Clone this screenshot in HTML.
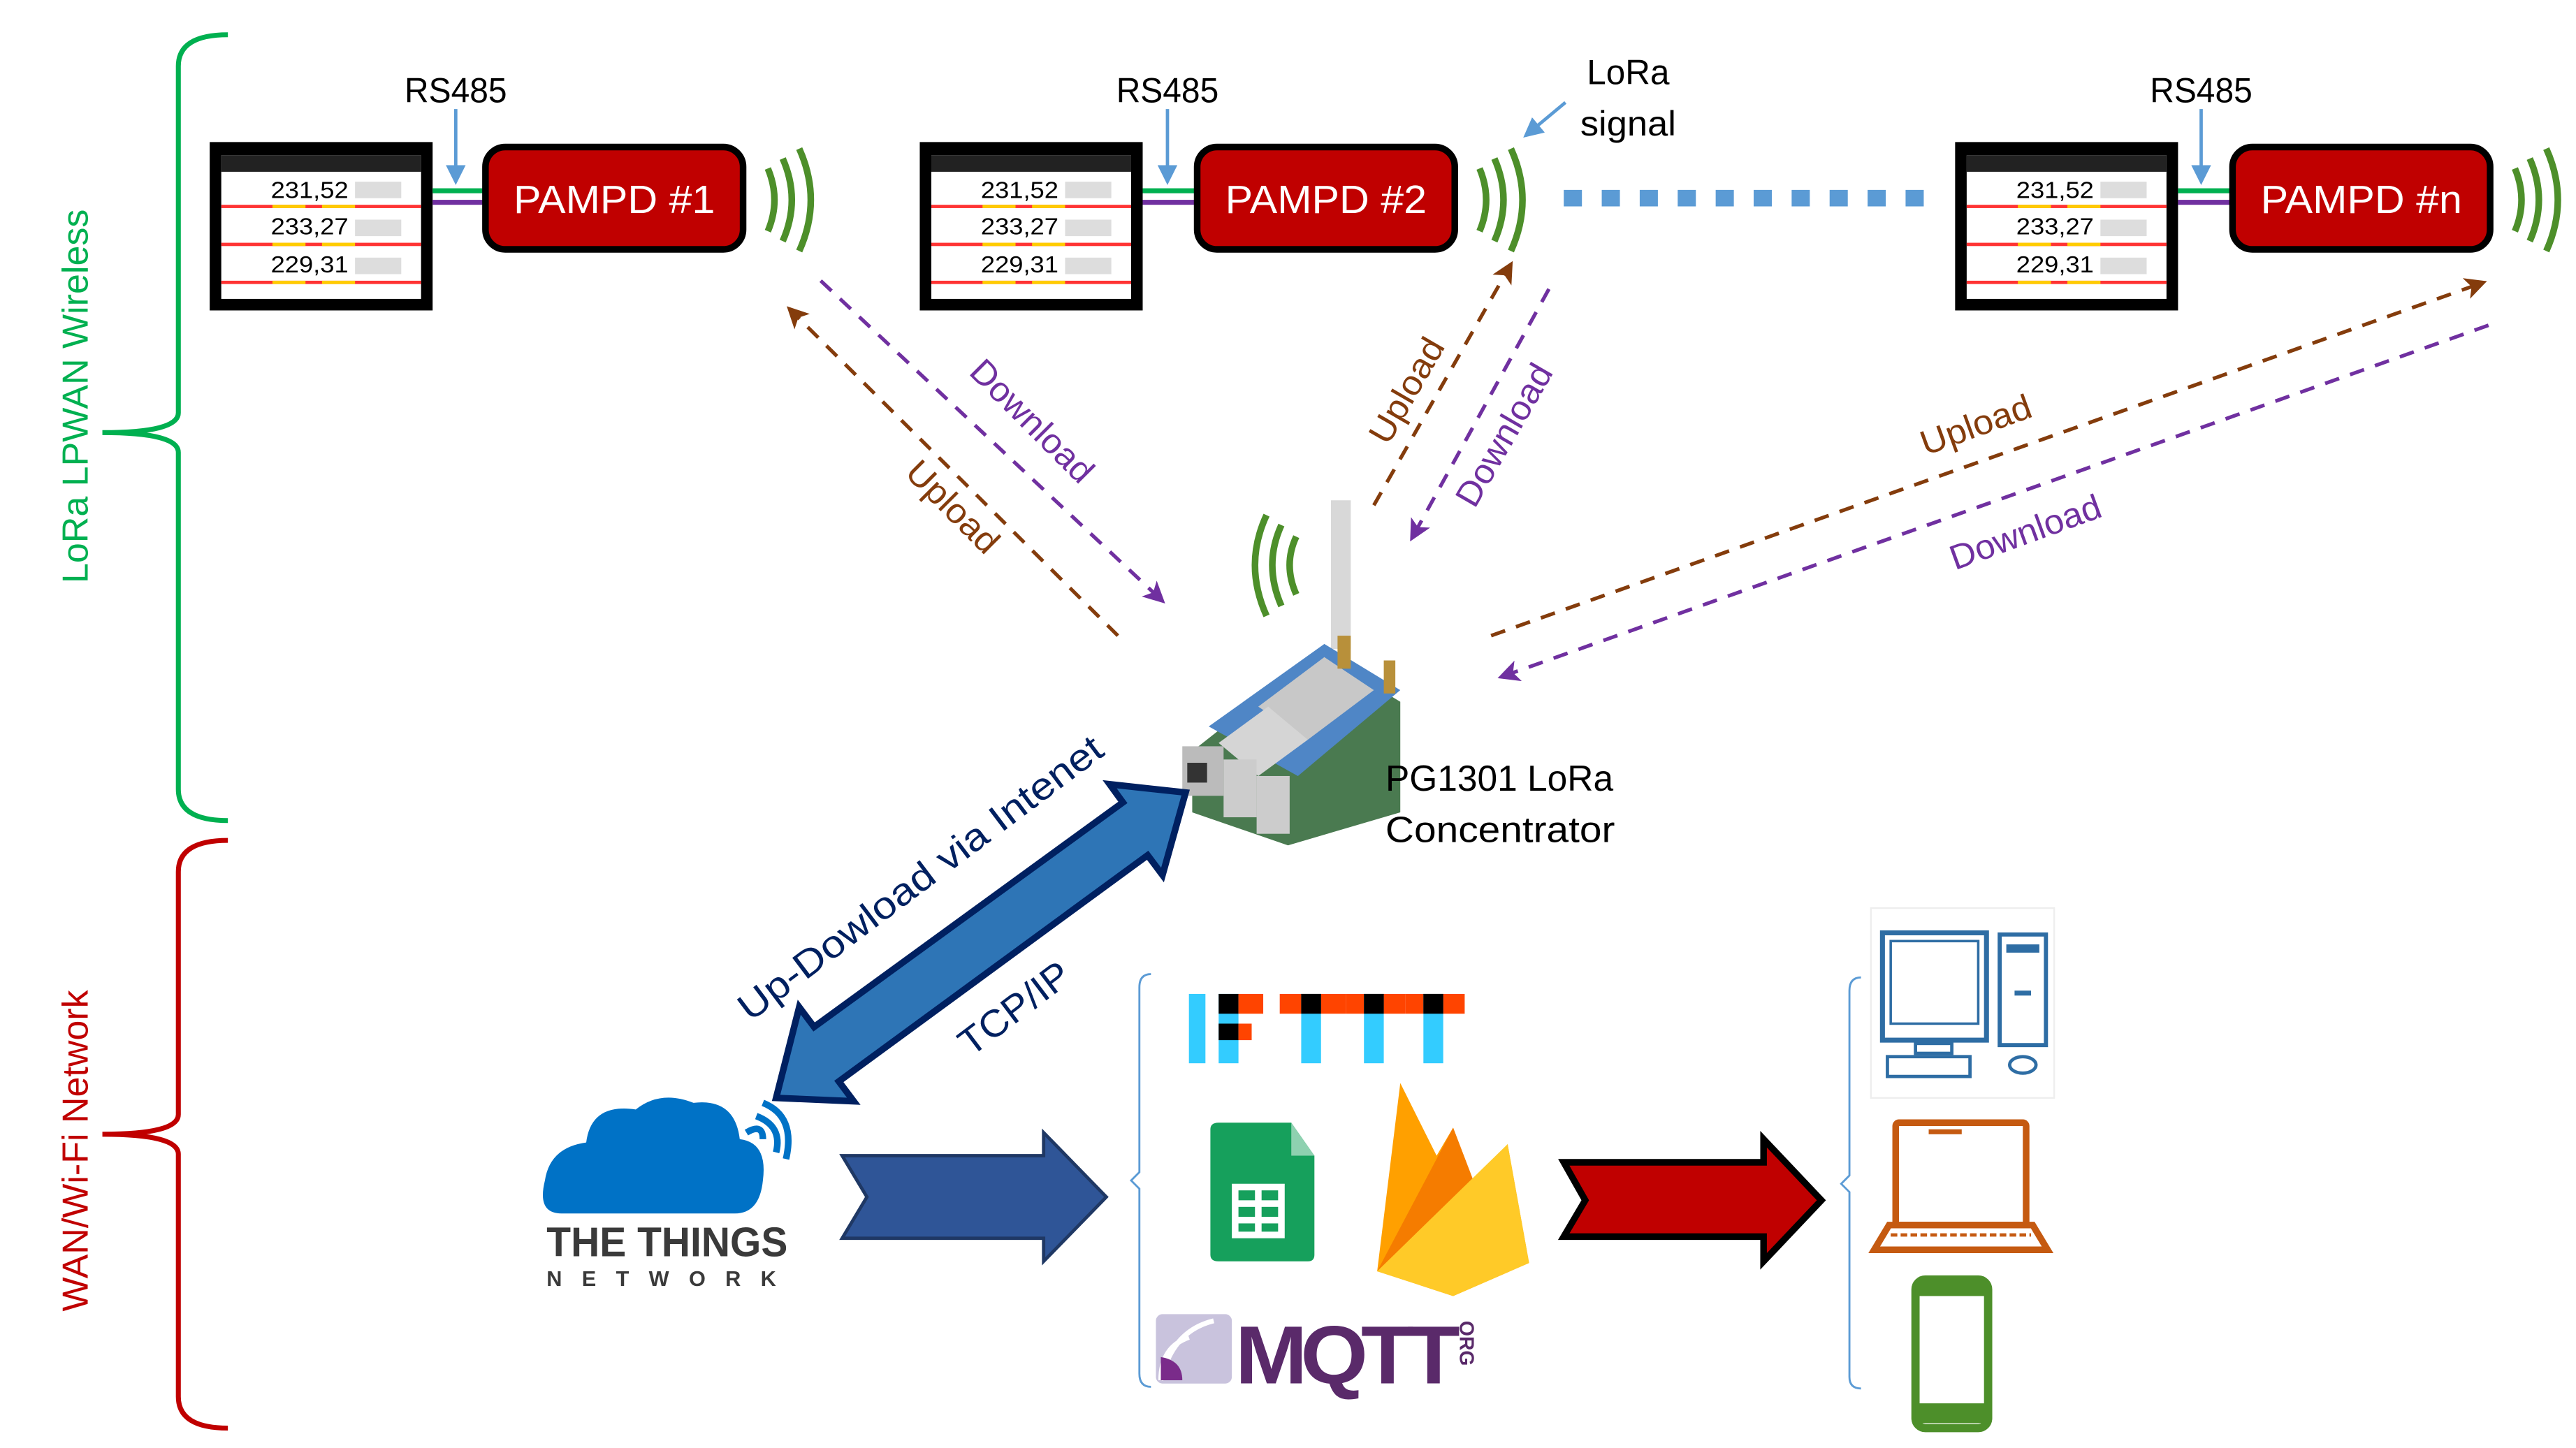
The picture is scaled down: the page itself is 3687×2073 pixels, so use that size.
<!DOCTYPE html>
<html><head><meta charset="utf-8"><style>
html,body{margin:0;padding:0;background:#fff;}
svg{display:block;}
text{font-family:"Liberation Sans",sans-serif;}
</style></head><body>
<svg width="3687" height="2073" viewBox="0 0 1560 877" xmlns="http://www.w3.org/2000/svg">
<defs>
<marker id="ab" markerWidth="6" markerHeight="6" refX="5" refY="3" orient="auto" markerUnits="strokeWidth"><path d="M0,0 L6,3 L0,6 L1.5,3 Z" fill="#843c0c"/></marker>
<marker id="ap" markerWidth="6" markerHeight="6" refX="5" refY="3" orient="auto" markerUnits="strokeWidth"><path d="M0,0 L6,3 L0,6 L1.5,3 Z" fill="#7030a0"/></marker>
<marker id="abl" markerWidth="6" markerHeight="6" refX="5" refY="3" orient="auto" markerUnits="strokeWidth"><path d="M0,0 L6,3 L0,6 Z" fill="#5b9bd5"/></marker>
</defs>

<!-- Braces -->
<path d="M138,21 Q108,21 108,40 L108,250 Q108,262 62,262 Q108,262 108,274 L108,478 Q108,497 138,497" fill="none" stroke="#00b050" stroke-width="3"/>
<text transform="translate(53,240) rotate(-90)" text-anchor="middle" font-size="22" fill="#00b050">LoRa LPWAN Wireless</text>
<path d="M138,509 Q108,509 108,528 L108,675 Q108,687 62,687 Q108,687 108,699 L108,846 Q108,865 138,865" fill="none" stroke="#c00000" stroke-width="3"/>
<text transform="translate(53,697) rotate(-90)" text-anchor="middle" font-size="22" fill="#c00000">WAN/Wi-Fi Network</text>

<!-- Meters -->
<g transform="translate(127,86)">
<rect x="0" y="0" width="135" height="102" fill="#000"/>
<rect x="7" y="8" width="121" height="87" fill="#fff"/>
<rect x="7" y="8" width="121" height="10" fill="#222"/>
<text x="37" y="34" font-size="14" textLength="47" lengthAdjust="spacingAndGlyphs">231,52</text><text x="37" y="56" font-size="14" textLength="47" lengthAdjust="spacingAndGlyphs">233,27</text><text x="37" y="79" font-size="14" textLength="47" lengthAdjust="spacingAndGlyphs">229,31</text>
<rect x="7" y="38" width="121" height="2" fill="#f33"/><rect x="38" y="38" width="20" height="2" fill="#fc0"/><rect x="68" y="38" width="20" height="2" fill="#fc0"/>
<rect x="7" y="61" width="121" height="2" fill="#f33"/><rect x="38" y="61" width="20" height="2" fill="#fc0"/><rect x="68" y="61" width="20" height="2" fill="#fc0"/>
<rect x="7" y="84" width="121" height="2" fill="#f33"/><rect x="38" y="84" width="20" height="2" fill="#fc0"/><rect x="68" y="84" width="20" height="2" fill="#fc0"/>
<rect x="88" y="24" width="28" height="10" fill="#ddd"/><rect x="88" y="47" width="28" height="10" fill="#ddd"/><rect x="88" y="70" width="28" height="10" fill="#ddd"/>
</g>
<g transform="translate(557,86)">
<rect x="0" y="0" width="135" height="102" fill="#000"/>
<rect x="7" y="8" width="121" height="87" fill="#fff"/>
<rect x="7" y="8" width="121" height="10" fill="#222"/>
<text x="37" y="34" font-size="14" textLength="47" lengthAdjust="spacingAndGlyphs">231,52</text><text x="37" y="56" font-size="14" textLength="47" lengthAdjust="spacingAndGlyphs">233,27</text><text x="37" y="79" font-size="14" textLength="47" lengthAdjust="spacingAndGlyphs">229,31</text>
<rect x="7" y="38" width="121" height="2" fill="#f33"/><rect x="38" y="38" width="20" height="2" fill="#fc0"/><rect x="68" y="38" width="20" height="2" fill="#fc0"/>
<rect x="7" y="61" width="121" height="2" fill="#f33"/><rect x="38" y="61" width="20" height="2" fill="#fc0"/><rect x="68" y="61" width="20" height="2" fill="#fc0"/>
<rect x="7" y="84" width="121" height="2" fill="#f33"/><rect x="38" y="84" width="20" height="2" fill="#fc0"/><rect x="68" y="84" width="20" height="2" fill="#fc0"/>
<rect x="88" y="24" width="28" height="10" fill="#ddd"/><rect x="88" y="47" width="28" height="10" fill="#ddd"/><rect x="88" y="70" width="28" height="10" fill="#ddd"/>
</g>
<g transform="translate(1184,86)">
<rect x="0" y="0" width="135" height="102" fill="#000"/>
<rect x="7" y="8" width="121" height="87" fill="#fff"/>
<rect x="7" y="8" width="121" height="10" fill="#222"/>
<text x="37" y="34" font-size="14" textLength="47" lengthAdjust="spacingAndGlyphs">231,52</text><text x="37" y="56" font-size="14" textLength="47" lengthAdjust="spacingAndGlyphs">233,27</text><text x="37" y="79" font-size="14" textLength="47" lengthAdjust="spacingAndGlyphs">229,31</text>
<rect x="7" y="38" width="121" height="2" fill="#f33"/><rect x="38" y="38" width="20" height="2" fill="#fc0"/><rect x="68" y="38" width="20" height="2" fill="#fc0"/>
<rect x="7" y="61" width="121" height="2" fill="#f33"/><rect x="38" y="61" width="20" height="2" fill="#fc0"/><rect x="68" y="61" width="20" height="2" fill="#fc0"/>
<rect x="7" y="84" width="121" height="2" fill="#f33"/><rect x="38" y="84" width="20" height="2" fill="#fc0"/><rect x="68" y="84" width="20" height="2" fill="#fc0"/>
<rect x="88" y="24" width="28" height="10" fill="#ddd"/><rect x="88" y="47" width="28" height="10" fill="#ddd"/><rect x="88" y="70" width="28" height="10" fill="#ddd"/>
</g>

<!-- connections & PAMPD boxes -->
<g>
<rect x="262" y="114" width="33" height="3" fill="#00b050"/><rect x="262" y="121" width="33" height="3" fill="#7030a0"/>
<rect x="692" y="114" width="33" height="3" fill="#00b050"/><rect x="692" y="121" width="33" height="3" fill="#7030a0"/>
<rect x="1319" y="114" width="33" height="3" fill="#00b050"/><rect x="1319" y="121" width="33" height="3" fill="#7030a0"/>
<rect x="294" y="89" width="156" height="62" rx="12" fill="#c00000" stroke="#000" stroke-width="4"/>
<rect x="725" y="89" width="156" height="62" rx="12" fill="#c00000" stroke="#000" stroke-width="4"/>
<rect x="1352" y="89" width="156" height="62" rx="12" fill="#c00000" stroke="#000" stroke-width="4"/>
<text x="372" y="129" text-anchor="middle" font-size="24" fill="#fff" textLength="122" lengthAdjust="spacingAndGlyphs">PAMPD #1</text>
<text x="803" y="129" text-anchor="middle" font-size="24" fill="#fff" textLength="122" lengthAdjust="spacingAndGlyphs">PAMPD #2</text>
<text x="1430" y="129" text-anchor="middle" font-size="24" fill="#fff" textLength="122" lengthAdjust="spacingAndGlyphs">PAMPD #n</text>
<text x="276" y="62" text-anchor="middle" font-size="21" textLength="62" lengthAdjust="spacingAndGlyphs">RS485</text>
<text x="707" y="62" text-anchor="middle" font-size="21" textLength="62" lengthAdjust="spacingAndGlyphs">RS485</text>
<text x="1333" y="62" text-anchor="middle" font-size="21" textLength="62" lengthAdjust="spacingAndGlyphs">RS485</text>
<line x1="276" y1="66" x2="276" y2="110" stroke="#5b9bd5" stroke-width="2" marker-end="url(#abl)"/>
<line x1="707" y1="66" x2="707" y2="110" stroke="#5b9bd5" stroke-width="2" marker-end="url(#abl)"/>
<line x1="1333" y1="66" x2="1333" y2="110" stroke="#5b9bd5" stroke-width="2" marker-end="url(#abl)"/>
</g>

<!-- signal arcs -->
<g fill="none" stroke="#4d8f2a" stroke-width="4">
<path d="M465,102 Q473,121 465,140"/><path d="M474,96 Q485,121 474,146"/><path d="M484,90 Q498,121 484,152"/>
<path d="M896,102 Q904,121 896,140"/><path d="M905,96 Q916,121 905,146"/><path d="M915,90 Q929,121 915,152"/>
<path d="M1523,102 Q1531,121 1523,140"/><path d="M1532,96 Q1543,121 1532,146"/><path d="M1542,90 Q1556,121 1542,152"/>
<path d="M785,325 Q777,342 785,360"/><path d="M776,318 Q765,342 776,367"/><path d="M767,312 Q753,342 767,373"/>
</g>

<!-- dotted blue -->
<line x1="947" y1="120" x2="1170" y2="120" stroke="#5b9bd5" stroke-width="10" stroke-dasharray="11,12"/>
<text x="986" y="51" text-anchor="middle" font-size="21" textLength="50" lengthAdjust="spacingAndGlyphs">LoRa</text>
<text x="986" y="82" text-anchor="middle" font-size="21" textLength="58" lengthAdjust="spacingAndGlyphs">signal</text>
<line x1="948" y1="62" x2="924" y2="82" stroke="#5b9bd5" stroke-width="2" marker-end="url(#abl)"/>

<!-- dashed arrows -->
<g stroke-width="2.2" fill="none" stroke-dasharray="9,7">
<line x1="497" y1="170" x2="704" y2="364" stroke="#7030a0" marker-end="url(#ap)"/>
<line x1="677" y1="385" x2="478" y2="187" stroke="#843c0c" marker-end="url(#ab)"/>
<line x1="832" y1="306" x2="915" y2="160" stroke="#843c0c" marker-end="url(#ab)"/>
<line x1="938" y1="175" x2="855" y2="326" stroke="#7030a0" marker-end="url(#ap)"/>
<line x1="903" y1="385" x2="1504" y2="171" stroke="#843c0c" marker-end="url(#ab)"/>
<line x1="1507" y1="197" x2="909" y2="410" stroke="#7030a0" marker-end="url(#ap)"/>
</g>
<text transform="translate(620,260) rotate(45)" text-anchor="middle" font-size="21" fill="#7030a0" textLength="96" lengthAdjust="spacingAndGlyphs">Download</text>
<text transform="translate(572,312) rotate(45)" text-anchor="middle" font-size="21" fill="#843c0c" textLength="70" lengthAdjust="spacingAndGlyphs">Upload</text>
<text transform="translate(858,240) rotate(-60)" text-anchor="middle" font-size="21" fill="#843c0c" textLength="70" lengthAdjust="spacingAndGlyphs">Upload</text>
<text transform="translate(917,267) rotate(-60)" text-anchor="middle" font-size="21" fill="#7030a0" textLength="96" lengthAdjust="spacingAndGlyphs">Download</text>
<text transform="translate(1199,264) rotate(-20)" text-anchor="middle" font-size="21" fill="#843c0c" textLength="70" lengthAdjust="spacingAndGlyphs">Upload</text>
<text transform="translate(1229,329) rotate(-20)" text-anchor="middle" font-size="21" fill="#7030a0" textLength="96" lengthAdjust="spacingAndGlyphs">Download</text>

<!-- concentrator -->
<rect x="806" y="303" width="12" height="90" fill="#d8d8d8"/>
<polygon points="722,455 798,395 848,425 848,492 780,512 722,492" fill="#4a7a50"/>
<polygon points="732,440 802,390 848,418 786,470" fill="#4f86c6"/>
<polygon points="762,428 802,398 832,418 792,448" fill="#c8c8c8"/>
<polygon points="738,450 768,428 792,448 762,470" fill="#d5d5d5"/>
<rect x="716" y="452" width="25" height="30" fill="#bbb"/><rect x="719" y="462" width="12" height="12" fill="#333"/>
<rect x="741" y="460" width="20" height="35" fill="#ccc"/><rect x="761" y="470" width="20" height="35" fill="#ccc"/>
<rect x="810" y="385" width="8" height="20" fill="#b8903a"/><rect x="838" y="400" width="7" height="20" fill="#b8903a"/>
<text x="839" y="479" font-size="22" textLength="138" lengthAdjust="spacingAndGlyphs">PG1301 LoRa</text>
<text x="839" y="510" font-size="22" textLength="139" lengthAdjust="spacingAndGlyphs">Concentrator</text>

<!-- big double arrow -->
<polygon points="470,665 484,610 493,622 680,486 672,475 718,480 704,530 695,518 508,655 517,667" fill="#2e75b6" stroke="#002060" stroke-width="4"/>
<text transform="translate(562,538) rotate(-37)" text-anchor="middle" font-size="23" fill="#002060" textLength="270" lengthAdjust="spacingAndGlyphs">Up-Dowload via Intenet</text>
<text transform="translate(619,617) rotate(-37)" text-anchor="middle" font-size="23" fill="#002060" textLength="78" lengthAdjust="spacingAndGlyphs">TCP/IP</text>

<!-- cloud -->
<path d="M340,735 Q325,735 330,715 Q333,695 355,692 Q358,668 385,672 Q400,660 420,668 Q445,665 448,690 Q465,692 462,715 Q460,735 445,735 Z" fill="#0072c6"/>
<path d="M452,686 Q462,680 462,690" fill="none" stroke="#0072c6" stroke-width="4"/>
<path d="M458,676 Q474,682 470,698" fill="none" stroke="#0072c6" stroke-width="4"/>
<path d="M462,668 Q482,676 476,702" fill="none" stroke="#0072c6" stroke-width="4"/>
<text x="404" y="761" text-anchor="middle" font-size="25" font-weight="bold" fill="#3a3a3a" textLength="146" lengthAdjust="spacingAndGlyphs">THE THINGS</text>
<text x="404" y="779" text-anchor="middle" font-size="13" font-weight="bold" fill="#3a3a3a" letter-spacing="7" textLength="146" lengthAdjust="spacing">NETWORK</text>

<!-- blue block arrow -->
<polygon points="510,700 632,700 632,686 670,725 632,764 632,750 510,750 525,725" fill="#2f5597" stroke="#1f3864" stroke-width="2"/>

<!-- middle bracket -->
<path d="M697,590 Q690,590 690,598 L690,710 L685,715 L690,720 L690,832 Q690,840 697,840" fill="none" stroke="#5b9bd5" stroke-width="1.2"/>

<!-- IFTTT -->
<rect x="720" y="602" width="10" height="42" fill="#33ccff"/>
<rect x="738" y="602" width="12" height="42" fill="#33ccff"/><rect x="738" y="602" width="12" height="12" fill="#000"/><rect x="750" y="602" width="15" height="12" fill="#ff4400"/><rect x="738" y="620" width="12" height="10" fill="#000"/><rect x="750" y="620" width="8" height="10" fill="#ff4400"/>
<rect x="775" y="602" width="40" height="12" fill="#ff4400"/><rect x="788" y="602" width="12" height="42" fill="#33ccff"/><rect x="788" y="602" width="12" height="12" fill="#000"/>
<rect x="815" y="602" width="36" height="12" fill="#ff4400"/><rect x="826" y="602" width="12" height="42" fill="#33ccff"/><rect x="826" y="602" width="12" height="12" fill="#000"/>
<rect x="851" y="602" width="36" height="12" fill="#ff4400"/><rect x="862" y="602" width="12" height="42" fill="#33ccff"/><rect x="862" y="602" width="12" height="12" fill="#000"/>

<!-- sheets -->
<path d="M738,680 L782,680 L796,700 L796,760 Q796,764 792,764 L738,764 Q733,764 733,760 L733,684 Q733,680 738,680 Z" fill="#16a05c"/>
<path d="M782,680 L782,700 L796,700 Z" fill="#8ed1b0"/>
<rect x="746" y="717" width="32" height="33" fill="#fff"/>
<rect x="750" y="721" width="10" height="6" fill="#16a05c"/><rect x="764" y="721" width="10" height="6" fill="#16a05c"/>
<rect x="750" y="731" width="10" height="6" fill="#16a05c"/><rect x="764" y="731" width="10" height="6" fill="#16a05c"/>
<rect x="750" y="741" width="10" height="5" fill="#16a05c"/><rect x="764" y="741" width="10" height="5" fill="#16a05c"/>

<!-- firebase -->
<polygon points="834,770 848,656 870,700 880,683 893,717 913,693 926,765 880,785" fill="#ffa000"/>
<polygon points="834,770 880,683 893,717" fill="#f57c00"/>
<polygon points="834,770 913,693 926,765 880,785" fill="#ffca28"/>

<!-- MQTT -->
<rect x="700" y="796" width="46" height="42" rx="4" fill="#c9c3dd"/>
<path d="M703,836 Q703,816 720,810 M703,836 Q710,806 735,800" fill="none" stroke="#fff" stroke-width="3"/>
<path d="M703,836 L703,822 Q716,824 716,836 Z" fill="#7a2b8a"/>
<text x="748" y="838" font-size="50" font-weight="bold" fill="#5a2a6a" letter-spacing="-4" textLength="132" lengthAdjust="spacingAndGlyphs">MQTT</text>
<text transform="translate(884,800) rotate(90)" font-size="12" font-weight="bold" fill="#5a2a6a">ORG</text>

<!-- red arrow -->
<polygon points="947,704 1068,704 1068,690 1103,727 1068,764 1068,749 947,749 960,727" fill="#c00000" stroke="#000" stroke-width="4"/>

<!-- right bracket -->
<path d="M1127,592 Q1120,592 1120,600 L1120,712 L1115,717 L1120,722 L1120,834 Q1120,841 1127,841" fill="none" stroke="#5b9bd5" stroke-width="1.2"/>

<!-- computer -->
<rect x="1133" y="550" width="111" height="115" fill="#fff" stroke="#eee" stroke-width="1"/>
<rect x="1140" y="565" width="63" height="65" fill="none" stroke="#2e6da4" stroke-width="3"/>
<rect x="1145" y="570" width="53" height="50" fill="none" stroke="#2e6da4" stroke-width="1.5"/>
<rect x="1160" y="632" width="22" height="6" fill="none" stroke="#2e6da4" stroke-width="2"/>
<rect x="1143" y="640" width="50" height="12" fill="none" stroke="#2e6da4" stroke-width="2"/>
<rect x="1211" y="566" width="28" height="67" fill="none" stroke="#2e6da4" stroke-width="2.5"/>
<rect x="1215" y="572" width="20" height="5" fill="#2e6da4"/><rect x="1220" y="600" width="10" height="3" fill="#2e6da4"/>
<ellipse cx="1225" cy="645" rx="8" ry="5" fill="none" stroke="#2e6da4" stroke-width="2"/>
<!-- laptop -->
<rect x="1148" y="680" width="79" height="62" rx="2" fill="none" stroke="#c55a11" stroke-width="4"/>
<rect x="1168" y="684" width="20" height="3" fill="#c55a11"/>
<path d="M1144,742 L1231,742 L1240,757 L1135,757 Z" fill="none" stroke="#c55a11" stroke-width="4"/>
<line x1="1145" y1="748" x2="1230" y2="748" stroke="#c55a11" stroke-width="2" stroke-dasharray="4,2"/>
<!-- phone -->
<rect x="1160" y="775" width="44" height="90" rx="6" fill="none" stroke="#4d8f2a" stroke-width="5"/>
<rect x="1160" y="775" width="44" height="10" fill="#4d8f2a"/><rect x="1160" y="850" width="44" height="12" fill="#4d8f2a"/>
</svg>
</body></html>
